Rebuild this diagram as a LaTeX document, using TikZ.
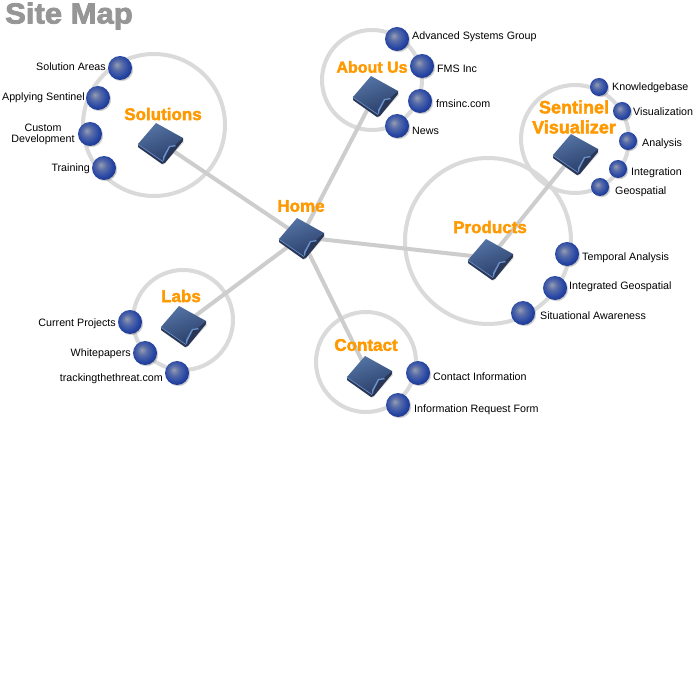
\documentclass[tikz,border=0pt]{standalone}
\usepackage{fontspec}
\usetikzlibrary{shadows}
\setmainfont{Liberation Sans}
\newfontfamily\headfont{Liberation Sans Bold}[FakeBold=2.2]
\newfontfamily\titlefont{Liberation Sans Bold}[FakeBold=2.8,FakeStretch=1.07]
\definecolor{orbA}{RGB}{150,158,178}
\definecolor{orbB}{RGB}{88,108,168}
\definecolor{orbC}{RGB}{40,72,165}
\definecolor{orbD}{RGB}{22,44,130}
\definecolor{ringgray}{RGB}{218,218,218}
\definecolor{linkgray}{RGB}{205,205,205}
\definecolor{titlegray}{RGB}{150,150,150}
\definecolor{headorange}{RGB}{255,153,0}
\definecolor{faceA}{RGB}{42,62,105}
\definecolor{faceB}{RGB}{84,116,165}
\definecolor{edgeLight}{RGB}{105,145,205}
\definecolor{sideDark}{RGB}{42,54,85}
\pgfdeclareradialshading{orb}{\pgfpoint{-7bp}{7bp}}{%
 color(0bp)=(orbA); color(10bp)=(orbB); color(22bp)=(orbC); color(32bp)=(orbD); color(50bp)=(orbD)}
\tikzset{
 x=1pt,y=-1pt,
 ring/.style={draw=ringgray,line width=4pt},
 link/.style={draw=linkgray,line width=4pt},
 orbnode/.style={circle,inner sep=0pt,minimum size=24pt,shading=orb,
   circular drop shadow={shadow xshift=1.2pt,shadow yshift=-1.2pt,shadow scale=1.02,opacity=.45}},
 smallorb/.style={orbnode,minimum size=18pt},
 itemtext/.style={font=\fontsize{10.7}{12}\selectfont,inner sep=0pt,align=center,text=black},
 headtext/.style={font=\headfont\fontsize{17}{17}\selectfont,text=headorange,inner sep=0pt,align=center},
 pics/pageicon/.style={code={
  \fill[black!25,opacity=.6] (-21,6) -- (3,23) -- (24,0) -- (20,-2) -- cycle;
  \fill[sideDark] (-22,2) -- (-22,5) -- (2,22) -- (5,21) -- (23,-1) -- (23,-4) -- cycle;
  \shade[top color=faceA,bottom color=faceB,shading angle=200]
     (-22,2) -- (-4,-19) -- (23,-4) -- (15,3) -- (9,4) -- (3,15) -- (3,19) -- cycle;
  \fill[edgeLight] (3,19) -- (3,15) -- (9,4) -- (15,3) -- (16,4.2) -- (10,5.2) -- (4.6,15.5) -- (4.2,18) -- cycle;
  \draw[edgeLight,line width=.7pt] (-22,2.4) -- (3,19.6);
 }}
}
\begin{document}
\begin{tikzpicture}
\useasboundingbox (0,0) rectangle (700,700);
\fill[white] (0,0) rectangle (700,700);
% hub positions
\coordinate (home) at (301,237);
\coordinate (sol) at (160,142);
\coordinate (labs) at (183,325);
\coordinate (about) at (375,95);
\coordinate (contact) at (369,375);
\coordinate (prod) at (490,258);
\coordinate (sent) at (575,153);
% rings
\draw[ring] (154,125) circle (71);
\draw[ring] (183,320) circle (50);
\draw[ring] (372,80) circle (50);
\draw[ring] (366,362) circle (50);
\draw[ring] (488,241) circle (83);
\draw[ring] (575,139) circle (54);
% links
\draw[link] (home) -- (sol);
\draw[link] (home) -- (labs);
\draw[link] (home) -- (about);
\draw[link] (home) -- (contact);
\draw[link] (home) -- (prod);
\draw[link] (prod) -- (sent);
% icons
\pic at (home) {pageicon};
\pic at (sol) {pageicon};
\pic at (labs) {pageicon};
\pic at (about) {pageicon};
\pic at (contact) {pageicon};
\pic at (prod) {pageicon};
\pic at (sent) {pageicon};
% headings
\node[headtext] (lhome) at (301,206) {Home};
\node[headtext] (lsol) at (163,114) {Solutions};
\node[headtext] (llabs) at (181,296) {Labs};
\node[headtext,font=\headfont\fontsize{16}{16}\selectfont] (labout) at (372,67) {About Us};
\node[headtext] (lcontact) at (366,345) {Contact};
\node[headtext] (lprod) at (490,227) {Products};
\node[headtext,font=\headfont\fontsize{18}{20}\selectfont] (lsent) at (574,117) {Sentinel\\Visualizer};
% title
\node[font=\titlefont\fontsize{29}{29}\selectfont,text=titlegray,inner sep=0pt,anchor=west] (title) at (5,16) {Site Map};
% orbs
\node[orbnode] (s1) at (120,68) {};
\node[orbnode] (s2) at (98,98) {};
\node[orbnode] (s3) at (90,134) {};
\node[orbnode] (s4) at (104,168) {};
\node[orbnode] (l1) at (130,322) {};
\node[orbnode] (l2) at (145,353) {};
\node[orbnode] (l3) at (177,373) {};
\node[orbnode] (a1) at (397,39) {};
\node[orbnode] (a2) at (422,66) {};
\node[orbnode] (a3) at (420,101) {};
\node[orbnode] (a4) at (397,126) {};
\node[orbnode] (c1) at (418,373) {};
\node[orbnode] (c2) at (398,405) {};
\node[orbnode] (p1) at (567,254) {};
\node[orbnode] (p2) at (555,288) {};
\node[orbnode] (p3) at (523,313) {};
\node[smallorb] (v1) at (599,87) {};
\node[smallorb] (v2) at (622,111) {};
\node[smallorb] (v3) at (628,141) {};
\node[smallorb] (v4) at (618,169) {};
\node[smallorb] (v5) at (600,187) {};
% item labels
\node[itemtext,anchor=east] (ts1) at (106,67) {Solution Areas};
\node[itemtext,anchor=east] (ts2) at (85,98) {Applying Sentinel};
\node[itemtext,anchor=center] (ts3) at (43,134) {Custom\\[-1pt]Development};
\node[itemtext,anchor=east] (ts4) at (90,169) {Training};
\node[itemtext,anchor=east] (tl1) at (116,324) {Current Projects};
\node[itemtext,anchor=east] (tl2) at (131,354) {Whitepapers};
\node[itemtext,anchor=east] (tl3) at (163,379) {trackingthethreat.com};
\node[itemtext,anchor=west] (ta1) at (412,37) {Advanced Systems Group};
\node[itemtext,anchor=west] (ta2) at (437,69) {FMS Inc};
\node[itemtext,anchor=west] (ta3) at (436,104) {fmsinc.com};
\node[itemtext,anchor=west] (ta4) at (412,131) {News};
\node[itemtext,anchor=west] (tc1) at (433,377) {Contact Information};
\node[itemtext,anchor=west] (tc2) at (414,410) {Information Request Form};
\node[itemtext,anchor=west] (tp1) at (582,258) {Temporal Analysis};
\node[itemtext,anchor=west] (tp2) at (569,287) {Integrated Geospatial};
\node[itemtext,anchor=west] (tp3) at (540,316) {Situational Awareness};
\node[itemtext,anchor=west] (tv1) at (612,88) {Knowledgebase};
\node[itemtext,anchor=west] (tv2) at (633,112) {Visualization};
\node[itemtext,anchor=west] (tv3) at (642,144) {Analysis};
\node[itemtext,anchor=west] (tv4) at (631,173) {Integration};
\node[itemtext,anchor=west] (tv5) at (615,192) {Geospatial};
\end{tikzpicture}
\end{document}
